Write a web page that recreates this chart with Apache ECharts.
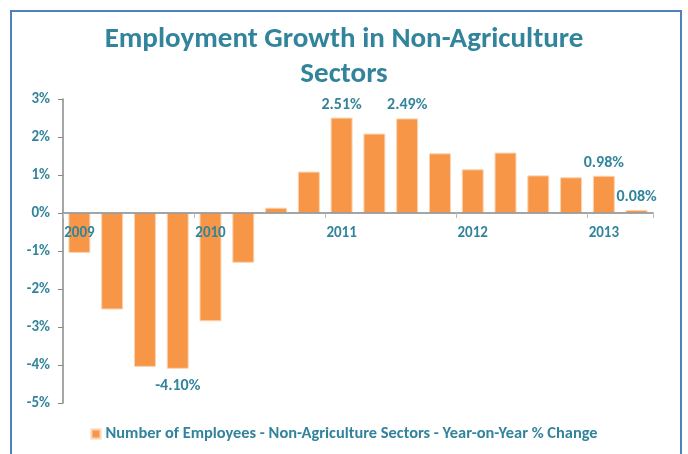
<!DOCTYPE html>
<html><head><meta charset="utf-8">
<script src="https://cdn.jsdelivr.net/npm/echarts@6/dist/echarts.min.js"></script>
<style>html,body{margin:0;padding:0;background:#fff}#c{width:688px;height:454px}</style>
</head><body><div id="c"></div>
<script>
const categories = ["2009","2009Q2","2009Q3","2009Q4","2010","2010Q2","2010Q3","2010Q4","2011","2011Q2","2011Q3","2011Q4","2012","2012Q2","2012Q3","2012Q4","2013","2013Q2"];
const values = [-1.05,-2.54,-4.05,-4.10,-2.85,-1.31,0.14,1.09,2.51,2.09,2.49,1.57,1.15,1.59,0.99,0.94,0.98,0.08];
const labelledIndex = [3,8,10,16,17];
const yTicks = [-5,-4,-3,-2,-1,0,1,2,3];
const teal = '#31849B';
const font = 'Carlito, Lato, "Open Sans", sans-serif';
const chart = echarts.init(document.getElementById('c'));
chart.setOption({
  animation:false,
  textStyle:{fontFamily:font},
  graphic:[{type:'rect',shape:{x:11,y:11,width:670,height:470},style:{fill:'none',stroke:'#4F81BD',lineWidth:2}}],
  title:{text:'Employment Growth in Non-Agriculture\nSectors',left:'center',top:17,
    textStyle:{fontFamily:font,fontSize:29,fontWeight:'bold',color:teal,lineHeight:35}},
  legend:{bottom:7,left:'center',itemWidth:9,itemHeight:9,itemGap:4,icon:'rect',
    textStyle:{fontFamily:font,fontSize:16.4,fontWeight:'bold',color:teal}},
  grid:{left:63,right:35,top:99,bottom:51,containLabel:false},
  xAxis:{type:'category',data:categories,position:'bottom',offset:-190,z:10,
    axisLine:{onZero:false,lineStyle:{color:'#888',width:1.5}},
    axisTick:{show:true,interval:3,length:5,lineStyle:{color:'#bbb'}},
    axisLabel:{interval:3,margin:13,color:teal,fontWeight:'bold',fontSize:15,fontFamily:font,
      formatter:v=>v.length===4?v:''}},
  yAxis:{type:'value',min:-5,max:3,interval:1,splitLine:{show:false},
    axisLine:{show:true,lineStyle:{color:'#888',width:1.5}},
    axisTick:{show:true,length:5,lineStyle:{color:'#888'}},
    axisLabel:{color:teal,fontWeight:'bold',fontSize:15,fontFamily:font,margin:13,
      formatter:v=>yTicks.includes(v)?v+'%':''}},
  series:[{name:'Number of Employees - Non-Agriculture Sectors - Year-on-Year % Change',
    type:'bar',barCategoryGap:'33%',z:2,
    itemStyle:{color:'#F79646',borderColor:'#FBD4B4',borderWidth:1},
    data:values.map((v,i)=>({value:v,label:{show:labelledIndex.includes(i),
      position:v<0?'bottom':'top',distance:v<0?9:5,formatter:v.toFixed(2)+'%',
      color:teal,fontWeight:'bold',fontSize:16,fontFamily:font}}))}]
});
</script></body></html>
